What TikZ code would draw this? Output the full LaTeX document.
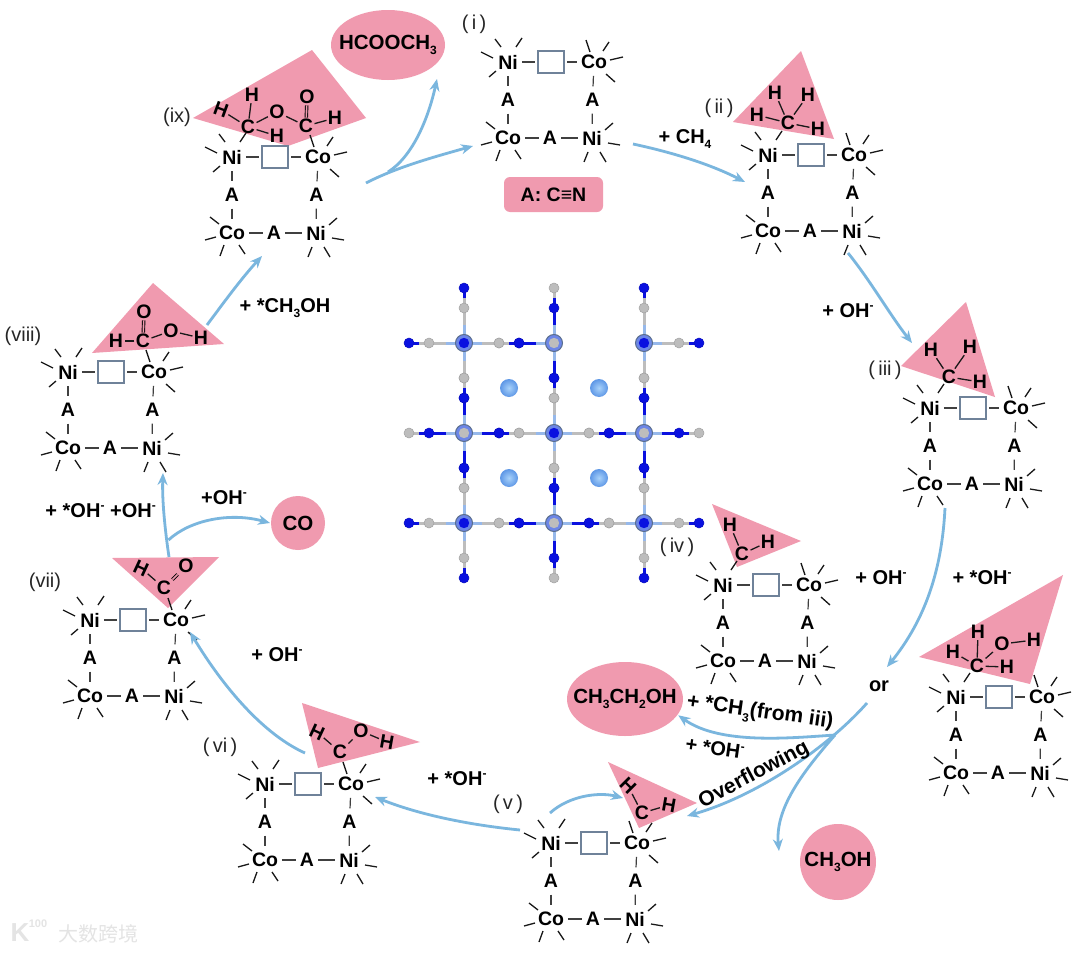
\documentclass[tikz,border=0pt]{standalone}
\usepackage{fontspec}
\setmainfont{Liberation Sans}
\newfontfamily\cjk{Noto Sans CJK SC}
\usetikzlibrary{arrows.meta,shapes.geometric}
\definecolor{rosefill}{HTML}{F09AAF}
\definecolor{flowblue}{HTML}{7AB6DE}
\definecolor{boxedge}{HTML}{6F8299}
\definecolor{ncolor}{HTML}{0A10E0}
\definecolor{ccolor}{HTML}{BDBDBD}
\definecolor{bondlight}{HTML}{96B8EA}
\definecolor{ballin}{HTML}{A8D2FA}
\definecolor{ballout}{HTML}{5E97E6}
\definecolor{markgrey}{HTML}{E4E4E4}
\newcommand{\lowd}[1]{\raisebox{-.28em}{\fontsize{12}{12}\selectfont #1}}
\newcommand{\supm}{\raisebox{.42em}{\fontsize{12}{12}\selectfont -}}
\tikzset{
  chem/.style={font=\bfseries\fontsize{19.5}{22}\selectfont, inner sep=2pt, outer sep=2pt},
  product/.style={font=\bfseries\fontsize{20.5}{22}\selectfont, fill=rosefill, outer sep=1pt},
  adatom/.style={font=\bfseries\fontsize{19.5}{22}\selectfont, inner sep=1pt, outer sep=.5pt},
  numlabel/.style={font=\fontsize{20}{22}\selectfont, text=black!85, inner sep=0pt},
  steplabel/.style={font=\bfseries\fontsize{20}{22}\selectfont, inner sep=0pt},
  slantlabel/.style={font=\bfseries\fontsize{21}{22}\selectfont, inner sep=0pt},
  vacancy/.style={draw=boxedge, fill=white, line width=1.2pt, minimum width=26pt, minimum height=22pt, inner sep=0pt, outer sep=3pt},
  spoke/.style={line width=1.3pt, black!90},
  link/.style={line width=1.2pt, black!75},
  adbond/.style={line width=1.3pt, black!90},
  dblbond/.style={line width=.9pt, double=rosefill, double distance=1.6pt, black},
  rosezone/.style={fill=rosefill},
  flow/.style={draw=flowblue, line width=2.8pt, -{Stealth[length=12pt,width=10pt]}},
  latbond/.style={line width=3pt},
  cell/.pic={
    \node[chem] (-ni1) at (0,0) {Ni};
    \node[vacancy] (-box) at (43,0) {};
    \node[chem] (-co1) at (86,0) {Co};
    \node[chem] (-a1) at (0,38) {A};
    \node[chem] (-a2) at (84.5,38) {A};
    \node[chem] (-co2) at (0,76) {Co};
    \node[chem] (-a3) at (42,76) {A};
    \node[chem] (-ni2) at (84,76) {Ni};
    \foreach \p/\q in {-ni1/-box,-box/-co1,-co2/-a3,-a3/-ni2} {
      \draw[link] (\p) -- (\q);
    }
    \foreach \p/\q in {-ni1/-a1,-a1/-co2,-co1/-a2,-a2/-ni2} {
      \draw[link, shorten >=3pt, shorten <=3pt] (\p) -- (\q);
    }
    \foreach \a/\b/\c/\d in {-13/-23/-7/-15, 8/-15/14/-24, -27/-10/-15/-4, -19/15/-12/9,
      78/-22/82/-10, 101/-20/95/-11, 102/-2/115/-5, 98/12/107/20,
      -22/60/-13/67, -27/83/-16/80, -8/88/-12/99, 7/88/13/97,
      97/68/105/61, 100/81/112/83, 80/90/76/100, 92/90/98/100} {
      \draw[spoke] (\a,\b) -- (\c,\d);
    }
  }
}
\begin{document}
\begin{tikzpicture}[x=1pt,y=-1pt]
  \useasboundingbox[fill=white] (0,0) rectangle (1080,953);

  % Draw rose zones behind the adsorbates
  \foreach \pts in {{(193,118) -- (312,50) -- (366,118) -- (288,146)},
    {(733,122) -- (801,51) -- (834,139)},
    {(901,366) -- (966,302) -- (995,397)},
    {(712,504) -- (801,541) -- (737,567)},
    {(919,657) -- (1063,575) -- (1030,684)},
    {(608,762) -- (697,803) -- (639,828)},
    {(302,703) -- (420,742) -- (318,768)},
    {(112,558) -- (219,557) -- (168,608)},
    {(153,283) -- (224,344) -- (92,353)}} {
    \fill[rosezone] \pts -- cycle;
  }

  % Mark the nine cells and the one on the right
  \pic (i) at (508,62) {cell};
  \pic (ii) at (768,155) {cell};
  \pic (iii) at (930,408) {cell};
  \pic (iv) at (723,585) {cell};
  \pic (side) at (956,697) {cell};
  \pic (v) at (551,843) {cell};
  \pic (vi) at (265,784) {cell};
  \pic (vii) at (90,620) {cell};
  \pic (viii) at (68,372) {cell};
  \pic (ix) at (232,157) {cell};

  % Adsorbed atoms
  \foreach \nm/\x/\y/\txt/\rot in {
    ixC/248/127/C/0, ixHa/252/95/H/0, ixHb/221/110/H/-20, ixHc/277/136/H/0, ixO/277/112/O/0,
    ixD/306/126/C/0, ixP/307/97/O/0, ixHd/335/118/H/0,
    iiC/788/123/C/0, iiHa/775/93/H/0, iiHb/808/95/H/0, iiHc/757/115/H/0, iiHd/818/129/H/0,
    iiiC/949/377/C/0, iiiHa/931/350/H/0, iiiHb/970/347/H/0, iiiHc/980/382/H/0,
    ivC/742/554/C/0, ivHa/730/525/H/0, ivHb/768/542/H/0,
    sideC/977/666/C/0, sideHa/978/632/H/0, sideHb/953/652/H/0, sideHc/1007/667/H/0, sideO/1002/644/O/0, sideHd/1034/640/H/0,
    vC/642/813/C/0, vHa/628/786/H/-45, vHb/669/805/H/-10,
    viC/340/752/C/0, viHa/317/732/H/-25, viO/361/731/O/0, viHb/387/742/H/-10,
    viiC/164/588/C/0, viiHa/141/568/H/-25, viiO/186/566/O/0,
    viiiC/143/341/C/0, viiiO/144/312/O/0, viiiHa/116/341/H/0, viiiP/171/331/O/0, viiiHb/201/338/H/0} {
    \node[adatom,rotate=\rot] (\nm) at (\x,\y) {\txt};
  }
  \foreach \p/\q in {ixC/ixHa, ixC/ixHb, ixC/ixHc, ixC/ixO, ixO/ixD, ixD/ixHd,
    iiC/iiHa, iiC/iiHb, iiC/iiHc, iiC/iiHd,
    iiiC/iiiHa, iiiC/iiiHb, iiiC/iiiHc,
    ivC/ivHa, ivC/ivHb,
    sideC/sideHa, sideC/sideHb, sideC/sideHc, sideC/sideO, sideO/sideHd,
    vC/vHa, vC/vHb,
    viC/viHa, viC/viO, viO/viHb,
    viiC/viiHa,
    viiiC/viiiHa, viiiC/viiiP, viiiP/viiiHb} {
    \draw[adbond] (\p) -- (\q);
  }
  \foreach \p/\q in {ixD/ixP, viiC/viiO, viiiC/viiiO} {
    \draw[dblbond] (\p) -- (\q);
  }

  % Products and the key
  \node[ellipse, product, minimum width=114pt, minimum height=70pt, inner xsep=-9pt, inner ysep=0pt] (formate) at (388,45) {HCOOCH\lowd{3}};
  \node[ellipse, product, minimum width=116pt, minimum height=74pt, inner xsep=-12pt, inner ysep=0pt] (ethanol) at (625,699) {CH\lowd{3}CH\lowd{2}OH};
  \node[circle, product, minimum size=76pt, inner sep=0pt] (methanol) at (838,862) {CH\lowd{3}OH};
  \node[circle, product, minimum size=54pt, inner sep=0pt] (co) at (298,523) {CO};
  \node[rectangle, rounded corners=6pt, rosezone, minimum width=99pt, minimum height=35pt, inner sep=0pt, chem] (key) at (553.5,194.5) {A: C≡N};

  % Draw the flow arrows
  \foreach \nm/\x/\y in {ixout/366/183, ixsplit/388/172, ixtop/437/79, iin/473/146,
    iout/633/144, iiin/745/182, iiout/848/253, iiiin/912/343, iiiout/945/508, orin/887/667,
    orout/867/703, orsplit/835/735, vin/687/816, mein/779/851,
    vloop/550/813, vtip/623/798, vout/520/830, viin/375/797, viout/305/753, viiin/190/632,
    viiout/169/557, viisplit/168.5/540, viiiin/163/473, viiiout/207/325, ixin/262/256} {
    \coordinate (\nm) at (\x,\y);
  }
  \draw[flow] (ixout) .. controls (395,168) and (430,158) .. (iin);
  \draw[flow] (ixsplit) .. controls (412,157) and (428,120) .. (ixtop);
  \draw[flow] (iout) .. controls (675,153) and (712,165) .. (iiin);
  \draw[flow] (iiout) .. controls (870,280) and (890,315) .. (iiiin);
  \draw[flow] (iiiout) .. controls (942,570) and (925,620) .. (orin);
  \draw[flow] (orout) .. controls (830,745) and (760,795) .. (vin);
  \draw[flow] (orsplit) .. controls (790,738) and (720,745) .. (ethanol.-17);
  \draw[flow] (orsplit) .. controls (800,775) and (775,810) .. (mein);
  \draw[flow] (vloop) .. controls (570,795) and (600,792) .. (vtip);
  \draw[flow] (vout) .. controls (470,825) and (420,815) .. (viin);
  \draw[flow] (viout) .. controls (265,735) and (225,690) .. (viiin);
  \draw[flow] (viiout) .. controls (165,530) and (162,500) .. (viiiin);
  \draw[flow] (viisplit) .. controls (190,520) and (230,512) .. (co.west);
  \draw[flow] (viiiout) .. controls (222,305) and (240,280) .. (ixin);

  % Step labels
  \foreach \nm/\x/\y/\txt in {
    sta/685/139/+ CH\lowd{4}, stb/848/311/+ OH\supm, stc/881/578/+ OH\supm, std/982/578/+ *OH\supm,
    ste/457/779/+ *OH\supm, stf/277/655/+ OH\supm, stg/75/511/+ *OH\supm, sth/133/511/+OH\supm,
    sti/224/498/+OH\supm, stj/285/308/+ *CH\lowd{3}OH, orword/879/686/or} {
    \node[steplabel] (\nm) at (\x,\y) {\txt};
  }
  \node[slantlabel,rotate=-8] (stk) at (760,713) {+ *CH\lowd{3}(from iii)};
  \node[steplabel,rotate=-8] (stl) at (715,748) {+ *OH\supm};
  \node[slantlabel,rotate=28] (stm) at (754,775) {Overflowing};

  % Cell numbers
  \foreach \nm/\x/\y/\txt in {
    numi/474/24/(\,i\,), numii/719/108/(\,ii\,), numiii/885/370/(\,iii\,), numiv/677/547/(\,iv\,),
    numv/508/804/(\,v\,), numvi/220/747/(\,vi\,), numvii/45/582/(vii), numviii/23/336/(viii), numix/177/117/(ix)} {
    \node[numlabel] (\nm) at (\x,\y) {\txt};
  }

  % Draw the lattice in the middle
  \foreach \x/\y/\nearc/\farc/\dirs in {
    464/343/ccolor/ncolor/{0,90,180,270}, 554/343/ncolor/ccolor/{90,180,270}, 644/343/ccolor/ncolor/{0,90,270},
    464/433/ncolor/ccolor/{0,90,180,270}, 554/433/ccolor/ncolor/{0,90,180,270}, 644/433/ncolor/ccolor/{0,90,180,270},
    464/523/ccolor/ncolor/{0,90,180,270}, 554/523/ncolor/ccolor/{0,90,180,270}, 644/523/ccolor/ncolor/{0,90,180,270}} {
    \foreach \a in \dirs {
      \draw[latbond,bondlight] (\x,\y) -- ++(\a:18);
      \draw[latbond,\nearc] (\x,\y) ++(\a:18) -- ++(\a:27);
      \draw[latbond,\farc] (\x,\y) ++(\a:45) -- ++(\a:10);
    }
  }
  \foreach \x/\y/\nearc/\farc/\dirs in {
    464/343/ccolor/ncolor/{0,90,180,270}, 554/343/ncolor/ccolor/{90,180,270}, 644/343/ccolor/ncolor/{0,90,270},
    464/433/ncolor/ccolor/{0,90,180,270}, 554/433/ccolor/ncolor/{0,90,180,270}, 644/433/ncolor/ccolor/{0,90,180,270},
    464/523/ccolor/ncolor/{0,90,180,270}, 554/523/ncolor/ccolor/{0,90,180,270}, 644/523/ccolor/ncolor/{0,90,180,270}} {
    \foreach \a in \dirs {
      \filldraw[fill=\nearc,draw=\nearc!85!black,line width=.5pt] (\x,\y) ++(\a:35) circle (5);
      \filldraw[fill=\farc,draw=\farc!85!black,line width=.5pt] (\x,\y) ++(\a:55) circle (5);
    }
    \filldraw[fill=bondlight!70!ncolor,draw=bondlight!60!black,line width=1pt] (\x,\y) circle (8.5);
    \fill[\farc] (\x,\y) circle (5.2);
  }
  \foreach \x/\y in {509/388, 599/388, 509/478, 599/478} {
    \shade[inner color=ballin, outer color=ballout] (\x,\y) circle (9);
  }

  % Watermark
  \node[font=\cjk\fontsize{20}{22}\selectfont, text=markgrey, inner sep=0pt] (markcn) at (98,934) {大数跨境};
  \node[font=\bfseries\fontsize{26}{28}\selectfont, text=markgrey, inner sep=0pt] (markk) at (20,933) {K};
  \node[font=\bfseries\fontsize{11}{12}\selectfont, text=markgrey, inner sep=0pt] (markn) at (38,924) {100};
\end{tikzpicture}
\end{document}
